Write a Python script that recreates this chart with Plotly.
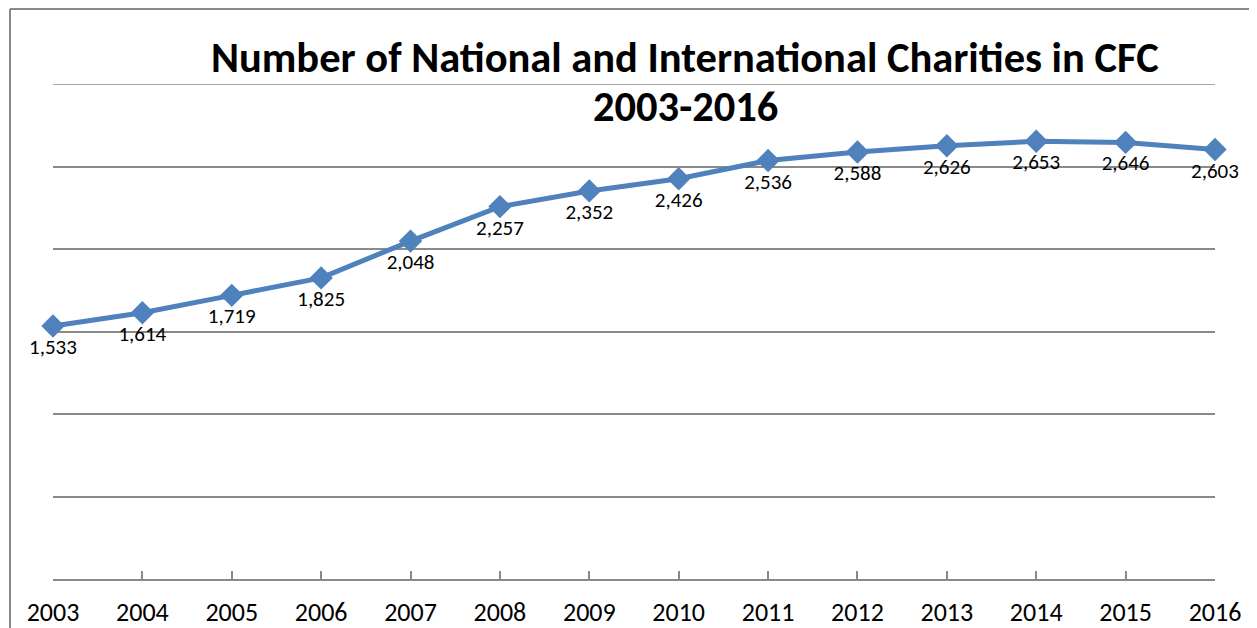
import plotly.graph_objects as go

years = [2003, 2004, 2005, 2006, 2007, 2008, 2009, 2010, 2011, 2012, 2013, 2014, 2015, 2016]
charities = [1533, 1614, 1719, 1825, 2048, 2257, 2352, 2426, 2536, 2588, 2626, 2653, 2646, 2603]
labels = [f"{v:,}" for v in charities]
title_lines = ["Number of National and International Charities in CFC", "2003-2016"]
grid_values = [500, 1000, 1500, 2000, 2500, 3000]

FONT = "Carlito, Calibri, Lato, 'Open Sans', sans-serif"
BLUE = "#4F81BD"
GRID = "#8A8A8A"

# page body has an 8px margin; compensate so the plot area lands at x 53..1215, y 84..579
PL, PT = 53, 84
PW, PH = 1162, 495

fig = go.Figure()
fig.add_trace(go.Scatter(
    x=years, y=charities, mode="lines+markers+text",
    line=dict(color=BLUE, width=5),
    marker=dict(symbol="diamond", size=18, color=BLUE),
    text=labels, textposition="bottom center",
    textfont=dict(family=FONT, size=21, color="#000000"),
    cliponaxis=False, showlegend=False,
))

fig.update_layout(
    width=1249, height=620,
    margin=dict(l=45, r=42, t=76, b=49, autoexpand=False),
    paper_bgcolor="white", plot_bgcolor="white",
    xaxis=dict(range=[2003, 2016], tickmode="array", tickvals=years,
               ticktext=[str(y) for y in years],
               showline=True, linecolor=GRID, linewidth=1.5,
               ticks="inside", ticklen=8, tickcolor=GRID, tickwidth=1.5,
               ticklabelstandoff=9, automargin=False,
               showgrid=False, zeroline=False,
               tickfont=dict(family=FONT, size=26, color="#000000")),
    yaxis=dict(range=[0, 3000], tickmode="array", tickvals=grid_values,
               showgrid=True, gridcolor=GRID, automargin=False,
               gridwidth=1.5, showticklabels=False, zeroline=False, showline=False),
    font=dict(family=FONT),
    annotations=[
        dict(text=f"<b>{title_lines[0]}</b>", xref="paper", yref="paper",
             x=(685 - PL) / PW, y=1 + (PT - 57) / PH, xanchor="center", yanchor="middle",
             showarrow=False, font=dict(family=FONT, size=42.5, color="#000000")),
        dict(text=f"<b>{title_lines[1]}</b>", xref="paper", yref="paper",
             x=(685 - PL) / PW, y=1 - (107 - PT) / PH, xanchor="center", yanchor="middle",
             showarrow=False, font=dict(family=FONT, size=42.5, color="#000000")),
    ],
    shapes=[
        dict(type="line", xref="paper", yref="y", layer="below",
             x0=0, x1=1, y0=grid_values[-1], y1=grid_values[-1],
             line=dict(color=GRID, width=1.5)),
        dict(type="line", xref="paper", yref="paper",
             x0=(10 - PL) / PW, x1=(10 - PL) / PW, y0=1 + (PT - 9) / PH, y1=-(628 - 579 + 5) / PH,
             line=dict(color=GRID, width=2)),
        dict(type="line", xref="paper", yref="paper",
             x0=(10 - PL) / PW, x1=(1262 - PL) / PW, y0=1 + (PT - 9) / PH, y1=1 + (PT - 9) / PH,
             line=dict(color=GRID, width=2)),
    ],
)

fig.write_html("out.html")
